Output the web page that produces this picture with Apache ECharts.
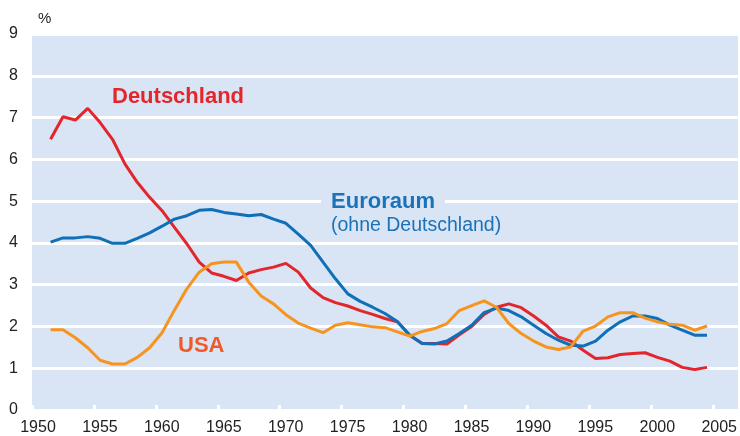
<!DOCTYPE html>
<html lang="de">
<head>
	<meta charset="UTF-8">
	<title>Inflation Deutschland, Euroraum, USA</title>
	<script src="https://cdn.jsdelivr.net/npm/echarts@6/dist/echarts.min.js"></script>
	<style>
		html, body { margin: 0; padding: 0; background: #fff; }
		#chart { width: 740px; height: 436px; }
	</style>
</head>
<body>
	<div id="chart"></div>
	<script type="text/javascript">
		// Jahreswerte 1951-2004, in %
		var years = [1951, 1952, 1953, 1954, 1955, 1956, 1957, 1958, 1959, 1960,
			1961, 1962, 1963, 1964, 1965, 1966, 1967, 1968, 1969, 1970,
			1971, 1972, 1973, 1974, 1975, 1976, 1977, 1978, 1979, 1980,
			1981, 1982, 1983, 1984, 1985, 1986, 1987, 1988, 1989, 1990,
			1991, 1992, 1993, 1994, 1995, 1996, 1997, 1998, 1999, 2000,
			2001, 2002, 2003, 2004];

		var deutschland = [6.48, 7.02, 6.94, 7.22, 6.88, 6.48, 5.89, 5.45, 5.09, 4.77,
			4.37, 3.98, 3.54, 3.28, 3.20, 3.10, 3.28, 3.36, 3.42, 3.51,
			3.30, 2.92, 2.69, 2.57, 2.49, 2.38, 2.29, 2.19, 2.11, 1.79,
			1.59, 1.59, 1.58, 1.80, 2.00, 2.29, 2.46, 2.54, 2.45, 2.25,
			2.03, 1.75, 1.65, 1.43, 1.23, 1.25, 1.33, 1.35, 1.37, 1.26,
			1.17, 1.02, 0.97, 1.02];

		var euroraum = [4.02, 4.12, 4.12, 4.15, 4.11, 3.99, 3.99, 4.11, 4.24, 4.40,
			4.57, 4.65, 4.78, 4.80, 4.73, 4.69, 4.65, 4.68, 4.57, 4.47,
			4.21, 3.94, 3.54, 3.14, 2.78, 2.60, 2.46, 2.31, 2.12, 1.79,
			1.59, 1.58, 1.65, 1.83, 2.03, 2.33, 2.44, 2.38, 2.23, 2.03,
			1.83, 1.67, 1.55, 1.53, 1.65, 1.91, 2.11, 2.25, 2.25, 2.19,
			2.03, 1.91, 1.79, 1.79];

		var usa = [1.92, 1.92, 1.73, 1.49, 1.19, 1.10, 1.10, 1.26, 1.49, 1.85,
			2.39, 2.90, 3.30, 3.50, 3.54, 3.54, 3.06, 2.73, 2.54, 2.28,
			2.08, 1.96, 1.85, 2.03, 2.09, 2.04, 1.99, 1.97, 1.87, 1.77,
			1.88, 1.95, 2.07, 2.38, 2.50, 2.61, 2.46, 2.07, 1.83, 1.65,
			1.51, 1.45, 1.51, 1.89, 2.01, 2.23, 2.33, 2.33, 2.20, 2.11,
			2.05, 2.03, 1.91, 2.01];

		var yTicks = [0, 1, 2, 3, 4, 5, 6, 7, 8, 9];

		var FONT = 'Liberation Sans, Arial, Helvetica, sans-serif';
		var BG = '#d9e4f4';

		// Jahresdurchschnitte werden in der Jahresmitte eingezeichnet
		function toPoints(vals) {
			return years.map(function(y, i) {
				return [y + 0.5, vals[i]];
			});
		}

		var myChart = echarts.init(document.getElementById('chart'));

		var option = {
			animation: false,
			textStyle: { fontFamily: FONT },
			grid: {
				left: 32,
				top: 34,
				right: 0,
				bottom: 24,
				show: true,
				backgroundColor: BG,
				borderWidth: 0,
				containLabel: false
			},
			xAxis: {
				type: 'value',
				min: 1950,
				max: 2007,
				interval: 5,
				axisLine: { show: false },
				axisTick: {
					show: true,
					inside: true,
					length: 5,
					lineStyle: { color: '#fff', width: 3 }
				},
				splitLine: { show: false },
				axisLabel: {
					showMaxLabel: false,
					color: '#222',
					fontSize: 16,
					fontFamily: FONT,
					margin: 10,
					padding: [0, 0, 0, 12],
					formatter: function(v) { return String(v); }
				}
			},
			yAxis: {
				type: 'value',
				min: yTicks[0],
				max: yTicks[yTicks.length - 1],
				interval: 1,
				axisLine: { show: false },
				axisTick: { show: false },
				splitLine: { lineStyle: { color: '#fff', width: 3 } },
				axisLabel: {
					color: '#222',
					fontSize: 16,
					fontFamily: FONT,
					margin: 14
				}
			},
			series: [{
				name: 'Deutschland',
				type: 'line',
				showSymbol: false,
				data: toPoints(deutschland),
				lineStyle: { color: '#e2262b', width: 3 },
				itemStyle: { color: '#e2262b' }
			}, {
				name: 'Euroraum',
				type: 'line',
				showSymbol: false,
				data: toPoints(euroraum),
				lineStyle: { color: '#0f6fb7', width: 3 },
				itemStyle: { color: '#0f6fb7' }
			}, {
				name: 'USA',
				type: 'line',
				showSymbol: false,
				data: toPoints(usa),
				lineStyle: { color: '#f7941d', width: 3 },
				itemStyle: { color: '#f7941d' }
			}],
			graphic: [{
				type: 'text',
				left: 38,
				top: 11,
				style: { text: '%', fill: '#222', font: '15px ' + FONT }
			}, {
				type: 'text',
				x: 112,
				y: 97,
				style: {
					text: 'Deutschland',
					fill: '#e3262b',
					font: 'bold 22px ' + FONT,
					verticalAlign: 'middle'
				}
			}, {
				type: 'text',
				x: 383,
				y: 202,
				z: 10,
				style: {
					text: 'Euroraum',
					fill: '#1a72b9',
					font: 'bold 22px ' + FONT,
					align: 'center',
					verticalAlign: 'middle',
					backgroundColor: BG,
					padding: [2, 10, 2, 10]
				}
			}, {
				type: 'text',
				x: 331,
				y: 226,
				style: {
					text: '(ohne Deutschland)',
					fill: '#1a72b9',
					font: '19.5px ' + FONT,
					verticalAlign: 'middle'
				}
			}, {
				type: 'text',
				x: 178,
				y: 346,
				style: {
					text: 'USA',
					fill: '#ef5a28',
					font: 'bold 22px ' + FONT,
					verticalAlign: 'middle'
				}
			}]
		};

		myChart.setOption(option);
	</script>
</body>
</html>
